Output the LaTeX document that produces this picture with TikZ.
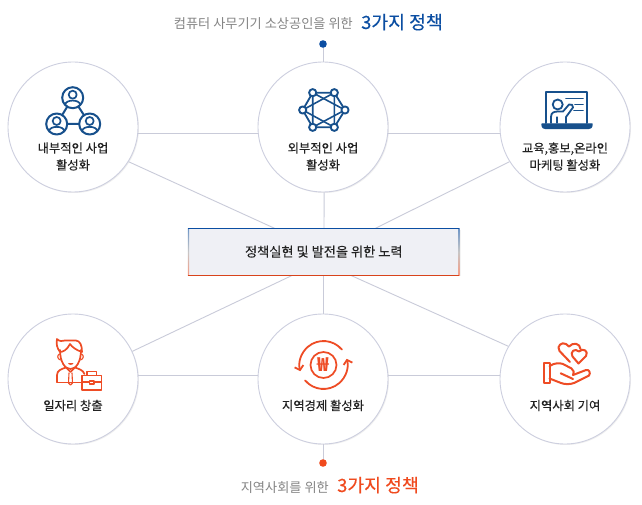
\documentclass[tikz,border=0pt]{standalone}
\usepackage{fontspec}
\setmainfont{Noto Sans CJK KR}
\newfontfamily\medf[FakeBold=0.25]{Noto Sans CJK KR}
\newfontfamily\headf[FakeBold=0.15]{Noto Sans CJK KR}
\usetikzlibrary{shadows,fadings,arrows.meta}
\definecolor{cblue}{HTML}{17508C}
\definecolor{corange}{HTML}{EE4C25}
\definecolor{tblue}{HTML}{0B4EA2}
\definecolor{torange}{HTML}{F04A1E}
\definecolor{rim}{HTML}{CDCFDF}
\definecolor{wire}{HTML}{C9CBD9}
\definecolor{boxfill}{HTML}{EFF0F5}
\definecolor{txt}{HTML}{222222}
\definecolor{grayt}{HTML}{858585}
\tikzset{
  bubble/.style={circle,draw=rim,line width=0.9pt,fill=white,minimum size=130pt,inner sep=0pt,
     drop shadow={shadow xshift=1pt,shadow yshift=-1pt,opacity=.10,fill=black!60}},
  wireline/.style={draw=wire,line width=0.9pt},
  label/.style={font=\medf\fontsize{12.3}{17}\selectfont,text=txt,align=center,inner sep=0pt},
  bicon/.style={draw=cblue,line width=2pt,line join=round,line cap=round},
  oicon/.style={draw=corange,line width=1.7pt,line join=round,line cap=round},
  person/.pic={
    \draw[bicon,fill=white] (0,0) circle[radius=10.5];
    \draw[bicon,line width=1.7pt] (0,-3) circle[radius=4];
    \draw[bicon,line width=1.7pt] (-7.5,7) .. controls (-7,1.5) and (7,1.5) .. (7.5,7);
  }
}
\begin{document}
\begin{tikzpicture}[x=1pt,y=-1pt]
\useasboundingbox (0,0) rectangle (642,505);
\fill[white] (0,0) rectangle (642,505);
% nodes
\node[bubble] (c1) at (73,127) {};
\node[bubble] (c2) at (323,127) {};
\node[bubble] (c3) at (565,127) {};
\node[bubble] (c4) at (73,379) {};
\node[bubble] (c5) at (323,379) {};
\node[bubble] (c6) at (565,379) {};
\coordinate (bt1) at (275,228.5);
\coordinate (bt2) at (324,228.5);
\coordinate (bt3) at (375,228.5);
\coordinate (bb1) at (293,275);
\coordinate (bb2) at (323,275);
\coordinate (bb3) at (350,275);
\coordinate (dot1) at (323,44);
\coordinate (dot2) at (323,463);
% connectors
\draw[wireline] (c1.-6) -- (c2.186);
\draw[wireline] (c2.-6) -- (c3.186);
\draw[wireline] (c4.3) -- (c5.177);
\draw[wireline] (c5.3) -- (c6.177);
\draw[wireline] (c1.-32) -- (bt1);
\draw[wireline] (c3.212) -- (bt3);
\draw[wireline] (c2.-89) -- (bt2);
\draw[wireline] (c4.25) -- (bb1);
\draw[wireline] (c6.150) -- (bb3);
\draw[wireline] (c5.90) -- (bb2);
\draw[wireline] (dot1) -- (c2.90);
\draw[wireline] (c5.-90) -- (dot2);
\fill[tblue] (dot1) circle[radius=3.8];
\fill[torange] (dot2) circle[radius=3.8];
% centre box
\node[draw=none,fill=boxfill,minimum width=270.5pt,minimum height=46.5pt,inner sep=0pt,
   drop shadow={shadow xshift=1.5pt,shadow yshift=-1.5pt,opacity=.08,fill=black!60},
   font=\medf\fontsize{13.2}{16}\selectfont,text=txt] (box) at (323.8,251.7) {정책실현 및 발전을 위한 노력};
\shade[top color=tblue!60,bottom color=torange!55,middle color=black!22] ([xshift=-0.5pt]box.north west) rectangle ([xshift=0.7pt]box.south west);
\shade[top color=tblue!60,bottom color=torange!55,middle color=black!22] ([xshift=-0.7pt]box.north east) rectangle ([xshift=0.5pt]box.south east);
\draw[tblue,line width=1pt] (box.north west) -- (box.north east);
\draw[torange!90!black,line width=1pt] (box.south west) -- (box.south east);
% titles
\node[font=\fontsize{13.2}{16}\selectfont,text=grayt,inner sep=0pt,anchor=base east] (t1) at (353,28.5) {컴퓨터 사무기기 소상공인을 위한};
\node[font=\headf\fontsize{18.3}{20}\selectfont,text=tblue,inner sep=0pt,anchor=base west] (t2) at (361,29) {3가지 정책};
\node[font=\fontsize{13.2}{16}\selectfont,text=grayt,inner sep=0pt,anchor=base east] (t3) at (329,492) {지역사회를 위한};
\node[font=\headf\fontsize{18.3}{20}\selectfont,text=torange,inner sep=0pt,anchor=base west] (t4) at (337,492) {3가지 정책};
% labels
\node[label] (l1) at (73,156.5) {내부적인 사업\\활성화};
\node[label] (l2) at (323,156.5) {외부적인 사업\\활성화};
\node[label] (l3) at (565,156.5) {교육,홍보,온라인\\마케팅 활성화};
\node[label] (l4) at (73,405.5) {일자리 창출};
\node[label] (l5) at (323,405.5) {지역경제 활성화};
\node[label] (l6) at (565,405.5) {지역사회 기여};
% icon 1
\draw[bicon] (72.7,97.7) -- (56.7,124) -- (89.7,124) -- cycle;
\pic at (72.7,97.7) {person};
\pic at (56.7,124) {person};
\pic at (89.7,124) {person};
% icon 2
\draw[bicon,line width=1.8pt] (312.7,92.7) -- (334.3,92.7) -- (345,110) -- (334.3,127.3) -- (312.7,127.3) -- (302.7,110) -- cycle;
\draw[bicon,line width=1.6pt] (312.7,92.7) -- (345,110) -- (312.7,127.3) -- cycle;
\draw[bicon,line width=1.6pt] (334.3,92.7) -- (334.3,127.3) -- (302.7,110) -- cycle;
\foreach \p in {(312.7,92.7),(334.3,92.7),(345,110),(334.3,127.3),(312.7,127.3),(302.7,110)}
  \draw[bicon,fill=white,line width=1.9pt] \p circle[radius=3.6];
% icon 3
\draw[bicon,line width=2pt] (546,123) -- (546,92.5) -- (587,92.5) -- (587,123);
\draw[bicon,fill=cblue,line width=1.4pt] (542,124) -- (592,124) .. controls (592,128) and (590,128.5) .. (588,128.5) -- (546,128.5) .. controls (544,128.5) and (542,128) .. (542,124);
\draw[bicon,line width=1.8pt] (557.7,104.5) circle[radius=5];
\draw[bicon,line width=1.8pt] (551,123) -- (551,117) .. controls (551,112.5) and (554,111.5) .. (558,111.5) -- (563,111.5) -- (569,104.5) .. controls (571,103.5) and (574,105.5) .. (573,107.5) -- (566,117) -- (566,123);
\draw[bicon,line width=1.3pt] (557,117) -- (557,123);
\draw[bicon,line width=1.6pt] (566,98.5) -- (583,98.5);
\draw[bicon,line width=1.6pt] (575,104.5) -- (583,104.5);
\draw[bicon,line width=1.6pt] (574,110.5) -- (583,110.5);
% icon 4
\draw[oicon] (60,350) .. controls (60,362) and (65,369) .. (70.5,369) .. controls (76,369) and (81,362) .. (81,350);
\draw[oicon] (60,352) .. controls (57,348) and (56,344) .. (57,339) .. controls (60,342) and (62,341) .. (65,340.5) -- (76,340.5) .. controls (80,341) and (82,345) .. (82,352) .. controls (76,350) and (72,347) .. (70,344) .. controls (67,350) and (63,352) .. (60,352);
\draw[oicon,line width=1.1pt] (59.5,354) .. controls (57,355) and (57,359) .. (60.5,360);
\draw[oicon,line width=1.1pt] (81.5,354) .. controls (84,355) and (84,359) .. (80.5,360);
\fill[corange] (68,363) -- (73.5,363) .. controls (73,365.5) and (68.5,365.5) .. (68,363);
\draw[oicon] (57,382) -- (57,375) .. controls (57,370) and (62,369) .. (66,367.5) -- (70.5,372) -- (75,367.5) .. controls (79,369) and (83,370) .. (84.5,374);
\draw[oicon] (57,382.5) -- (81,382.5);
\draw[oicon,line width=1.1pt] (69,373) -- (68.5,383) -- (70.5,385) -- (72.5,383) -- (72,373);
\draw[oicon,fill=white] (82,375.5) rectangle (101.5,390);
\draw[oicon,line width=1.2pt] (87,375) -- (87,371.5) -- (96.5,371.5) -- (96.5,375);
\draw[oicon,line width=1.2pt] (82,382) -- (89,382) (94.5,382) -- (101.5,382);
\draw[oicon,line width=1.2pt] (89.5,381) rectangle (94,384);
% icon 5
\draw[oicon,line width=1.7pt] (323.5,365) circle[radius=13];
\node[font=\fontsize{19}{20}\bfseries,text=corange,inner sep=0pt] (won) at (323.5,365) {₩};
\draw[oicon,line width=1.8pt,-{Straight Barb[length=4pt,width=9pt]}] (341.9,349.6) arc[start angle=40,end angle=195,radius=24pt];
\draw[oicon,line width=1.8pt,-{Straight Barb[length=4pt,width=9pt]}] (305.1,380.4) arc[start angle=220,end angle=375,radius=24pt];
% icon 6
\draw[oicon,line width=2pt] (570,362) -- (559.5,351) .. controls (556,346) and (562,341.5) .. (566,344) -- (569,346.5) .. controls (573,342) and (580,343) .. (580.5,349);
\draw[oicon,fill=white,line width=2pt] (578.5,363.5) -- (572.5,356.5) .. controls (569.5,352) and (575,347.5) .. (579,351.5) .. controls (583,347.5) and (589,351) .. (586,356) -- cycle;
\draw[oicon,fill=white,line width=2pt] (543.5,362.7) rectangle (549.5,382.5);
\draw[oicon,line width=2pt] (549.5,366) .. controls (555,362.5) and (560,363) .. (563,364) -- (571.5,368.5) .. controls (574,370) and (574.5,373) .. (573,375) -- (586,370) .. controls (589,369) and (591,373) .. (589,375.5) -- (574,383) .. controls (570,384.5) and (565,384.5) .. (561,383) -- (549.5,378.5);
\draw[oicon,line width=2pt] (560.7,373.3) -- (573,379);
\end{tikzpicture}
\end{document}
